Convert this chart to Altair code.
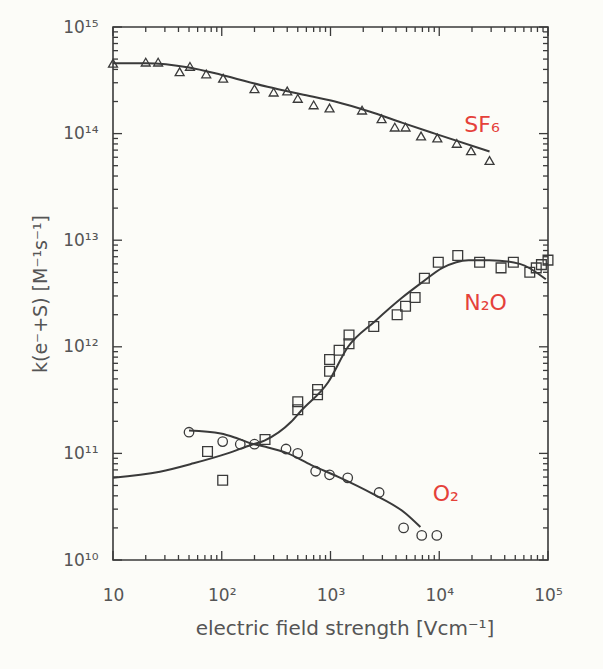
import altair as alt
import pandas as pd

# ---- data ----
sf6_x = [10, 20, 26, 41, 51, 72, 103, 200, 300, 400, 500, 700, 980, 1950, 2950,
         3900, 4900, 6800, 9600, 14500, 19600, 29000]
sf6_y = [4.57e14, 4.68e14, 4.68e14, 3.8e14, 4.27e14, 3.63e14, 3.31e14, 2.63e14,
         2.45e14, 2.51e14, 2.14e14, 1.86e14, 1.74e14, 1.66e14, 1.38e14, 1.15e14,
         1.15e14, 9.5e13, 9.1e13, 8.1e13, 6.9e13, 5.6e13]
sf6_fit_x = [10, 20, 50, 100, 263, 537, 1100, 2240, 4600, 9100, 29000]
sf6_fit_y = [4.57e14, 4.57e14, 4.17e14, 3.55e14, 2.75e14, 2.34e14, 2.0e14,
             1.62e14, 1.26e14, 1.0e14, 6.8e13]

n2o_x = [74, 102, 250, 500, 500, 760, 760, 980, 980, 1200, 1480, 1480, 2500, 4100,
         4900, 6000, 7300, 9800, 14800, 23500, 37000, 48000, 68000, 78000, 87000,
         100000]
n2o_y = [1.04e11, 5.6e10, 1.35e11, 3.05e11, 2.57e11, 3.98e11, 3.55e11, 7.6e11,
         5.9e11, 9.3e11, 1.29e12, 1.07e12, 1.55e12, 2.0e12, 2.4e12, 2.9e12, 4.4e12,
         6.2e12, 7.2e12, 6.2e12, 5.5e12, 6.2e12, 5.0e12, 5.5e12, 5.9e12, 6.5e12]
n2o_fit_x = [10, 27, 55, 113, 186, 247, 435, 537, 955, 1450, 2570, 4570, 6900,
             10700, 18600, 28800, 55000, 95500]
n2o_fit_y = [5.9e10, 6.73e10, 8.07e10, 1.0e11, 1.2e11, 1.32e11, 1.98e11, 2.51e11,
             4.68e11, 1.0e12, 1.74e12, 2.9e12, 4.0e12, 5.5e12, 6.5e12, 6.5e12,
             6.0e12, 4.3e12]

o2_x = [50, 102, 148, 200, 390, 500, 730, 980, 1440, 2800, 4700, 6900, 9500]
o2_y = [1.58e11, 1.29e11, 1.22e11, 1.22e11, 1.10e11, 1.0e11, 6.8e10, 6.3e10,
        5.9e10, 4.3e10, 2.0e10, 1.7e10, 1.7e10]
o2_fit_x = [50, 98, 140, 186, 247, 405, 667, 1178, 2400, 4880, 6710]
o2_fit_y = [1.64e11, 1.54e11, 1.38e11, 1.24e11, 1.16e11, 1.0e11, 7.76e10, 6.03e10,
            4.22e10, 2.75e10, 2.04e10]

label_text = ["SF₆", "N₂O", "O₂"]
label_x = [17000, 17000, 8700]
label_y = [1.2e14, 2.6e12, 4.2e10]

x_tick_labels = ["10", "10²", "10³", "10⁴", "10⁵"]
y_tick_labels = ["10¹⁰", "10¹¹", "10¹²", "10¹³", "10¹⁴", "10¹⁵"]
x_decades = [10, 100, 1000, 10000, 100000]
y_decades = [1e10, 1e11, 1e12, 1e13, 1e14, 1e15]

# ---- layout / style ----
W, H = 435, 533
INK = "#3a3a3a"
TXT = "#555555"
RED = "#e5413a"
FONT = "DejaVu Sans"

xs = alt.Scale(type="log", domain=[10, 1e5], nice=False)
ys = alt.Scale(type="log", domain=[1e10, 1e15], nice=False)

x_minor = [m * d for d in x_decades[:-1] for m in range(2, 10)]
y_minor = [m * d for d in y_decades[:-1] for m in range(2, 10)]

xlab_expr = "[" + ",".join(f"'{t}'" for t in x_tick_labels) + "][round(log(datum.value)/LN10)-1]"
ylab_expr = "[" + ",".join(f"'{t}'" for t in y_tick_labels) + "][round(log(datum.value)/LN10)-10]"

x_axis = alt.Axis(values=x_decades, labelExpr=xlab_expr, title="electric field strength [Vcm⁻¹]",
                  ticks=False, tickSize=0, domain=False, grid=False, labelPadding=27,
                  labelFlush=False, titlePadding=15, labelFontSize=17, titleFontSize=20,
                  titleX=W / 2 + 14)
y_axis = alt.Axis(values=y_decades, labelExpr=ylab_expr, title="k(e⁻+S)  [M⁻¹s⁻¹]",
                  ticks=False, tickSize=0, domain=False, grid=False, labelPadding=15,
                  labelFlush=False, titlePadding=12, labelFontSize=17, titleFontSize=19)


def X(field):
    return alt.X(field, type="quantitative", scale=xs, axis=x_axis)


def Y(field):
    return alt.Y(field, type="quantitative", scale=ys, axis=y_axis)


def pts(xv, yv, shape, size):
    df = pd.DataFrame({"x": xv, "y": yv})
    return alt.Chart(df).mark_point(shape=shape, size=size, filled=False, color=INK,
                                    strokeWidth=1.3, opacity=1).encode(x=X("x"), y=Y("y"))


def fit(xv, yv):
    df = pd.DataFrame({"x": xv, "y": yv})
    return alt.Chart(df).mark_line(color=INK, strokeWidth=2, interpolate="monotone").encode(
        x=X("x"), y=Y("y"))


def xticks(vals, y0, y1):
    return alt.Chart(pd.DataFrame({"x": vals})).mark_rule(color=INK, strokeWidth=1.3).encode(
        x=X("x"), y=alt.value(y0), y2=alt.value(y1))


def yticks(vals, x0, x1):
    return alt.Chart(pd.DataFrame({"y": vals})).mark_rule(color=INK, strokeWidth=1.3).encode(
        y=Y("y"), x=alt.value(x0), x2=alt.value(x1))


labels = alt.Chart(pd.DataFrame({"t": label_text, "x": label_x, "y": label_y})).mark_text(
    color=RED, font=FONT, fontSize=22, align="left", baseline="middle").encode(
    x=X("x"), y=Y("y"), text="t:N")

layers = [
    pts(sf6_x, sf6_y, "triangle-up", 80),
    pts(n2o_x, n2o_y, "square", 95),
    pts(o2_x, o2_y, "circle", 90),
    fit(sf6_fit_x, sf6_fit_y),
    fit(n2o_fit_x, n2o_fit_y),
    fit(o2_fit_x, o2_fit_y),
    xticks(x_decades, H, H - 9), xticks(x_minor, H, H - 5),
    xticks(x_decades, 0, 9), xticks(x_minor, 0, 5),
    yticks(y_decades, 0, 9), yticks(y_minor, 0, 5),
    yticks(y_decades, W, W - 9), yticks(y_minor, W, W - 5),
    labels,
]

chart = alt.layer(*layers).properties(
    width=W, height=H,
    padding={"left": 113, "top": 27, "right": 55, "bottom": 109},
    autosize=alt.AutoSizeParams(type="none"),
    background="#fcfcf8",
).configure_view(stroke=INK, strokeWidth=1.6).configure_axis(
    labelFont=FONT, titleFont=FONT, labelColor=TXT, titleColor=TXT,
    titleFontWeight="normal")

chart.save("out.html", embed_options={"renderer": "svg", "actions": False})
